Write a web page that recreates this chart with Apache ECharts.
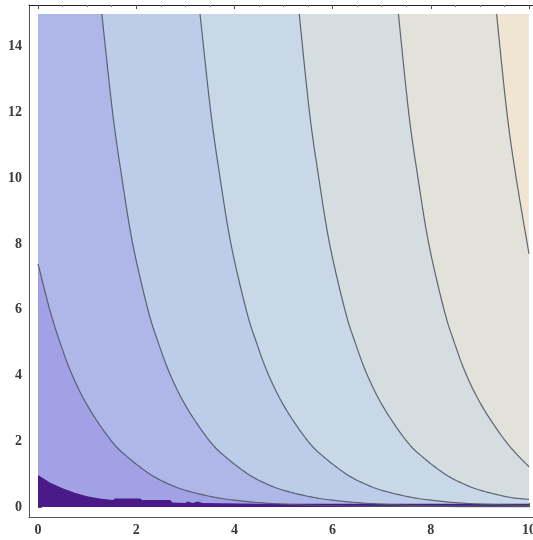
<!DOCTYPE html>
<html>
<head>
<meta charset="utf-8">
<script src="https://cdn.jsdelivr.net/npm/echarts@6/dist/echarts.min.js"></script>
<style>
  html, body { margin: 0; padding: 0; background: #ffffff; }
  #chart { width: 533px; height: 540px; }
</style>
</head>
<body>
<div id="chart"></div>
<script>
// Contour lines, left to right. Each is traced from where it enters the
// plot (left or top edge) down to where it leaves it (bottom or right edge).
const contourA = [[0, 7.4], [0.24, 6], [0.45, 5], [0.70, 4], [1.04, 3], [1.50, 2], [1.84, 1.5],
                  [2.28, 1], [2.66, 0.7], [3.02, 0.5], [3.58, 0.3], [4.04, 0.2], [4.62, 0.12],
                  [5.25, 0.07], [5.9, 0.04], [7, 0.02], [10, 0.01]];
const contourB = [[1.30, 15], [1.52, 12], [1.71, 10], [1.93, 8], [2.24, 6], [2.45, 5], [2.70, 4],
                  [3.04, 3], [3.50, 2], [3.84, 1.5], [4.28, 1], [4.66, 0.7], [5.02, 0.5], [5.58, 0.3],
                  [6.04, 0.2], [6.62, 0.12], [7.25, 0.07], [7.9, 0.04], [10, 0.015]];
const contourC = [[3.30, 15], [3.52, 12], [3.71, 10], [3.93, 8], [4.24, 6], [4.45, 5], [4.70, 4],
                  [5.04, 3], [5.50, 2], [5.84, 1.5], [6.28, 1], [6.66, 0.7], [7.02, 0.5], [7.58, 0.3],
                  [8.04, 0.2], [8.62, 0.12], [9.25, 0.075], [10, 0.05]];
const contourD = [[5.32, 15], [5.53, 12], [5.72, 10], [5.94, 8], [6.25, 6], [6.46, 5], [6.71, 4],
                  [7.05, 3], [7.51, 2], [7.85, 1.5], [8.29, 1], [8.67, 0.7], [9.03, 0.5], [9.59, 0.3],
                  [10, 0.23]];
const contourE = [[7.34, 15], [7.55, 12], [7.74, 10], [7.96, 8], [8.27, 6], [8.48, 5], [8.73, 4],
                  [9.07, 3], [9.55, 1.95], [10, 1.22]];
const contourF = [[9.34, 15], [9.55, 12], [9.74, 10], [10, 7.7]];

// Upper edge of the lowest (darkest) band along y = 0
const floorEdge = [[0, 0.97], [0.25, 0.74], [0.5, 0.57], [0.75, 0.43], [1.0, 0.33], [1.25, 0.26],
                   [1.53, 0.21], [1.56, 0.26], [2.08, 0.26], [2.12, 0.21], [2.69, 0.21], [2.74, 0.14],
                   [3.0, 0.12], [3.05, 0.17], [3.15, 0.12], [3.25, 0.17], [3.35, 0.12], [4.5, 0.1],
                   [10, 0.1]];

// Band fills, from the band under contour A up to the band right of contour F
const bandColors = ['#a3a1e5', '#aeb7e7', '#bdcde9', '#c9d8e6', '#d6dde1', '#e2e2da', '#f0e5d3'];
const floorColor = '#4a1a88';
const lineColor = '#4f5867';

const xTickLabels = ['0', '2', '4', '6', '8', '10'];
const yTickLabels = ['0', '2', '4', '6', '8', '10', '12', '14'];

const contours = [contourA, contourB, contourC, contourD, contourE, contourF];

// Catmull-Rom spline through pixel points, sampled into a dense polyline
function splinePoints(pts) {
  if (pts.length < 3) return pts.slice();
  const out = [pts[0]];
  const steps = 12;
  for (let i = 0; i < pts.length - 1; i++) {
    const p0 = pts[i - 1] || pts[i], p1 = pts[i], p2 = pts[i + 1], p3 = pts[i + 2] || pts[i + 1];
    const c1 = [p1[0] + (p2[0] - p0[0]) / 6, p1[1] + (p2[1] - p0[1]) / 6];
    const c2 = [p2[0] - (p3[0] - p1[0]) / 6, p2[1] - (p3[1] - p1[1]) / 6];
    for (let s = 1; s <= steps; s++) {
      const t = s / steps, u = 1 - t;
      out.push([
        u * u * u * p1[0] + 3 * u * u * t * c1[0] + 3 * u * t * t * c2[0] + t * t * t * p2[0],
        u * u * u * p1[1] + 3 * u * u * t * c1[1] + 3 * u * t * t * c2[1] + t * t * t * p2[1]
      ]);
    }
  }
  return out;
}

// Bands: each later band is painted over the earlier ones, bounded by its contour
// and the upper-right corner of the plot.
const bands = [
  { color: bandColors[0], edge: null, closing: [[10, 0], [10, 15], [0, 15], [0, 0]] },
  { color: bandColors[1], edge: contourA, closing: [[10, 15], [0, 15]] },
  { color: bandColors[2], edge: contourB, closing: [[10, 15]] },
  { color: bandColors[3], edge: contourC, closing: [[10, 15]] },
  { color: bandColors[4], edge: contourD, closing: [[10, 15]] },
  { color: bandColors[5], edge: contourE, closing: [[10, 15]] },
  { color: bandColors[6], edge: contourF, closing: [[10, 15]] }
];

const chart = echarts.init(document.getElementById('chart'), null, { renderer: 'canvas' });

const labelFont = {
  fontFamily: '"Liberation Serif", "Times New Roman", serif',
  fontSize: 14,
  fontWeight: 'bold',
  color: '#3a3a3a'
};

const option = {
  animation: false,
  backgroundColor: '#ffffff',
  grid: [
    { left: 38, right: 4, top: 14, bottom: 33, containLabel: false, outerBoundsMode: 'none' },
    { left: 29, right: 0, top: 5, bottom: 23, containLabel: false, outerBoundsMode: 'none' }
  ],
  xAxis: [
    {
      type: 'value', gridIndex: 0, position: 'bottom', min: 0, max: 10, interval: 2, offset: 10,
      axisLine: { show: false },
      axisTick: { show: true, inside: true, length: 4, lineStyle: { color: '#555' } },
      minorTick: { show: true, splitNumber: 4, length: 2, lineStyle: { color: '#777' } },
      splitLine: { show: false },
      axisLabel: Object.assign({ margin: 6, formatter: (v) => xTickLabels[Math.round(v / 2)] ?? '' }, labelFont)
    },
    {
      type: 'value', gridIndex: 0, position: 'top', min: 0, max: 10, interval: 2, offset: 9,
      axisLine: { show: false },
      axisTick: { show: true, inside: true, length: 4, lineStyle: { color: '#555' } },
      minorTick: { show: true, splitNumber: 4, length: 2, lineStyle: { color: '#777' } },
      splitLine: { show: false },
      axisLabel: { show: false }
    },
    {
      type: 'value', gridIndex: 1, position: 'bottom', min: 0, max: 1,
      axisLine: { show: true, lineStyle: { color: '#555', width: 1 } },
      axisTick: { show: false }, splitLine: { show: false }, axisLabel: { show: false }
    },
    {
      type: 'value', gridIndex: 1, position: 'top', min: 0, max: 1,
      axisLine: { show: true, lineStyle: { color: '#222', width: 1 } },
      axisTick: { show: false }, splitLine: { show: false }, axisLabel: { show: false }
    }
  ],
  yAxis: [
    {
      type: 'value', gridIndex: 0, position: 'left', min: 0, max: 15, interval: 2, offset: 9,
      axisLine: { show: false },
      axisTick: { show: true, inside: true, length: 4, lineStyle: { color: '#555' } },
      minorTick: { show: true, splitNumber: 4, length: 2, lineStyle: { color: '#777' } },
      splitLine: { show: false },
      axisLabel: Object.assign({ margin: 7, showMaxLabel: false,
        formatter: (v) => (v % 2 === 0 ? (yTickLabels[v / 2] ?? '') : '') }, labelFont)
    },
    {
      type: 'value', gridIndex: 1, position: 'left', min: 0, max: 1,
      axisLine: { show: true, lineStyle: { color: '#555', width: 1 } },
      axisTick: { show: false }, splitLine: { show: false }, axisLabel: { show: false }
    }
  ],
  series: [
    {
      type: 'custom',
      xAxisIndex: 0, yAxisIndex: 0,
      data: bands.map((b, i) => [i]),
      renderItem: function (params, api) {
        const band = bands[api.value(0)];
        let pts = [];
        if (band.edge) pts = splinePoints(band.edge.map((p) => api.coord(p)));
        pts = pts.concat(band.closing.map((p) => api.coord(p)));
        return { type: 'polygon', shape: { points: pts }, style: { fill: band.color, stroke: null } };
      },
      z: 1, silent: true
    },
    {
      type: 'custom',
      xAxisIndex: 0, yAxisIndex: 0,
      data: [[0]],
      renderItem: function (params, api) {
        const pts = floorEdge.map((p) => api.coord(p)).concat([api.coord([10, 0]), api.coord([0, 0])]);
        return { type: 'polygon', shape: { points: pts }, style: { fill: floorColor, stroke: null } };
      },
      z: 2, silent: true
    },
    {
      type: 'custom',
      xAxisIndex: 0, yAxisIndex: 0,
      data: contours.map((c, i) => [i]),
      renderItem: function (params, api) {
        const pts = splinePoints(contours[api.value(0)].map((p) => api.coord(p)));
        return { type: 'polyline', shape: { points: pts },
                 style: { fill: null, stroke: lineColor, lineWidth: 1.2, opacity: 0.9 } };
      },
      z: 3, silent: true
    }
  ]
};

chart.setOption(option);
</script>
</body>
</html>
